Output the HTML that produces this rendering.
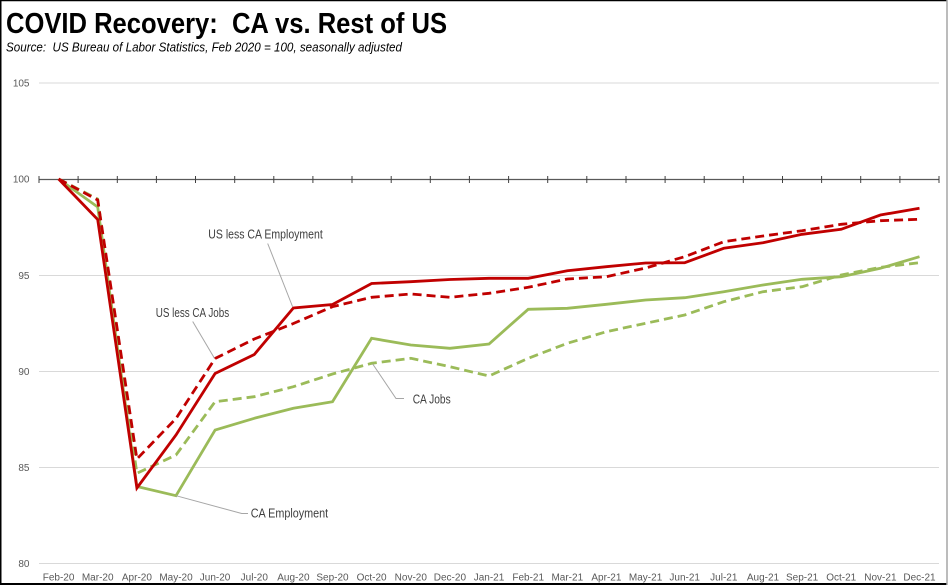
<!DOCTYPE html>
<html><head><meta charset="utf-8"><style>
html,body{margin:0;padding:0;background:#fff;}
svg{display:block;}
</style></head><body>
<svg width="949" height="585" viewBox="0 0 949 585" xmlns="http://www.w3.org/2000/svg">
<rect x="0" y="0" width="949" height="585" fill="#fff"/>
<line x1="0.5" y1="0" x2="0.5" y2="585" stroke="#000" stroke-width="2"/>
<line x1="0" y1="0.5" x2="947" y2="0.5" stroke="#000" stroke-width="1.5"/>
<line x1="0" y1="584" x2="947" y2="584" stroke="#000" stroke-width="2"/>
<line x1="947" y1="0" x2="947" y2="585" stroke="#a6a6a6" stroke-width="1.5"/>

<text x="6" y="33" font-family="Liberation Sans, sans-serif" font-weight="bold" font-size="28.5" textLength="441" lengthAdjust="spacingAndGlyphs" fill="#000">COVID Recovery:&#160; CA vs. Rest of US</text>
<text x="6" y="51.5" font-family="Liberation Sans, sans-serif" font-style="italic" font-size="12.5" textLength="396" lengthAdjust="spacingAndGlyphs" fill="#000">Source:&#160; US Bureau of Labor Statistics, Feb 2020 = 100, seasonally adjusted</text>

<g stroke="#d9d9d9" stroke-width="1">
<line x1="39" y1="83" x2="939" y2="83"/>
<line x1="39" y1="275.5" x2="939" y2="275.5"/>
<line x1="39" y1="371.5" x2="939" y2="371.5"/>
<line x1="39" y1="467.5" x2="939" y2="467.5"/>
<line x1="39" y1="563.5" x2="939" y2="563.5"/>
</g>
<line x1="39" y1="179.5" x2="939" y2="179.5" stroke="#595959" stroke-width="1.3"/>
<g stroke="#404040" stroke-width="1">
<line x1="39.0" y1="176" x2="39.0" y2="183"/><line x1="78.1" y1="176" x2="78.1" y2="183"/><line x1="117.3" y1="176" x2="117.3" y2="183"/><line x1="156.4" y1="176" x2="156.4" y2="183"/><line x1="195.5" y1="176" x2="195.5" y2="183"/><line x1="234.7" y1="176" x2="234.7" y2="183"/><line x1="273.8" y1="176" x2="273.8" y2="183"/><line x1="312.9" y1="176" x2="312.9" y2="183"/><line x1="352.0" y1="176" x2="352.0" y2="183"/><line x1="391.2" y1="176" x2="391.2" y2="183"/><line x1="430.3" y1="176" x2="430.3" y2="183"/><line x1="469.4" y1="176" x2="469.4" y2="183"/><line x1="508.6" y1="176" x2="508.6" y2="183"/><line x1="547.7" y1="176" x2="547.7" y2="183"/><line x1="586.8" y1="176" x2="586.8" y2="183"/><line x1="626.0" y1="176" x2="626.0" y2="183"/><line x1="665.1" y1="176" x2="665.1" y2="183"/><line x1="704.2" y1="176" x2="704.2" y2="183"/><line x1="743.3" y1="176" x2="743.3" y2="183"/><line x1="782.5" y1="176" x2="782.5" y2="183"/><line x1="821.6" y1="176" x2="821.6" y2="183"/><line x1="860.7" y1="176" x2="860.7" y2="183"/><line x1="899.9" y1="176" x2="899.9" y2="183"/><line x1="939.0" y1="176" x2="939.0" y2="183"/>
</g>

<g font-family="Liberation Sans, sans-serif" font-size="10" fill="#595959" text-anchor="end">
<text x="29.5" y="86.5">105</text>
<text x="29.5" y="182.5">100</text>
<text x="29.5" y="279">95</text>
<text x="29.5" y="375">90</text>
<text x="29.5" y="471">85</text>
<text x="29.5" y="567">80</text>
</g>

<g font-family="Liberation Sans, sans-serif" font-size="10" fill="#595959" text-anchor="middle">
<text x="58.6" y="580.5">Feb-20</text><text x="97.7" y="580.5">Mar-20</text><text x="136.9" y="580.5">Apr-20</text><text x="176.0" y="580.5">May-20</text><text x="215.1" y="580.5">Jun-20</text><text x="254.3" y="580.5">Jul-20</text><text x="293.4" y="580.5">Aug-20</text><text x="332.5" y="580.5">Sep-20</text><text x="371.6" y="580.5">Oct-20</text><text x="410.8" y="580.5">Nov-20</text><text x="449.9" y="580.5">Dec-20</text><text x="489.0" y="580.5">Jan-21</text><text x="528.2" y="580.5">Feb-21</text><text x="567.3" y="580.5">Mar-21</text><text x="606.4" y="580.5">Apr-21</text><text x="645.6" y="580.5">May-21</text><text x="684.7" y="580.5">Jun-21</text><text x="723.8" y="580.5">Jul-21</text><text x="763.0" y="580.5">Aug-21</text><text x="802.1" y="580.5">Sep-21</text><text x="841.2" y="580.5">Oct-21</text><text x="880.4" y="580.5">Nov-21</text><text x="919.5" y="580.5">Dec-21</text>
</g>

<g fill="none" stroke-width="2.8" stroke-linejoin="miter">
<polyline stroke="#9BBB59" stroke-dasharray="9 5" points="58.6,179 97.7,199 136.9,473.3 176.0,455 215.1,401.7 254.3,396.7 293.4,386.7 332.5,374 371.6,363.3 410.8,358.3 449.9,366.7 489.0,376 528.2,358.3 567.3,343.3 606.4,331.7 645.6,323.3 684.7,315 723.8,301.7 763.0,291.7 802.1,286.7 841.2,275 880.4,267.3 919.5,262.7"/>
<polyline stroke="#9BBB59" points="58.6,179 97.7,207 136.9,486.5 176.0,495.7 215.1,430 254.3,418.3 293.4,408.3 332.5,401.7 371.6,338.3 410.8,345 449.9,348.3 489.0,344 528.2,309.3 567.3,308.3 606.4,304.3 645.6,300 684.7,297.7 723.8,291.7 763.0,285 802.1,279.3 841.2,276.7 880.4,268.3 919.5,256.7"/>
<polyline stroke="#C00000" stroke-dasharray="9 5" points="58.6,179 97.7,200 136.9,459 176.0,418.5 215.1,358.5 254.3,339 293.4,323.5 332.5,306.7 371.6,297.3 410.8,294 449.9,297.3 489.0,293.3 528.2,287.3 567.3,279 606.4,276.7 645.6,268 684.7,256.7 723.8,241.7 763.0,236 802.1,230.7 841.2,224.3 880.4,220.7 919.5,219.3"/>
<polyline stroke="#C00000" points="58.6,179 97.7,219.5 136.9,488 176.0,435 215.1,373.5 254.3,354.5 293.4,308 332.5,304.5 371.6,283.5 410.8,281.7 449.9,279.5 489.0,278.3 528.2,278.3 567.3,270.7 606.4,266.7 645.6,263 684.7,262.7 723.8,248.3 763.0,242.7 802.1,234.3 841.2,229.3 880.4,215 919.5,208.3"/>
</g>

<g stroke="#a6a6a6" stroke-width="1" fill="none">
<line x1="267.7" y1="243.5" x2="292.7" y2="307"/>
<line x1="192.7" y1="321.5" x2="214.3" y2="358"/>
<polyline points="404,398.5 396,398.5 372.7,364"/>
<polyline points="248,513.5 241.7,513.5 176,495.7"/>
</g>

<g font-family="Liberation Sans, sans-serif" font-size="12.5" fill="#404040">
<text x="208.3" y="238.5" textLength="114.5" lengthAdjust="spacingAndGlyphs">US less CA Employment</text>
<text x="155.7" y="317" textLength="73.5" lengthAdjust="spacingAndGlyphs">US less CA Jobs</text>
<text x="412.7" y="403.3" textLength="38" lengthAdjust="spacingAndGlyphs">CA Jobs</text>
<text x="250.7" y="517.5" textLength="77.5" lengthAdjust="spacingAndGlyphs">CA Employment</text>
</g>
</svg>
</body></html>
